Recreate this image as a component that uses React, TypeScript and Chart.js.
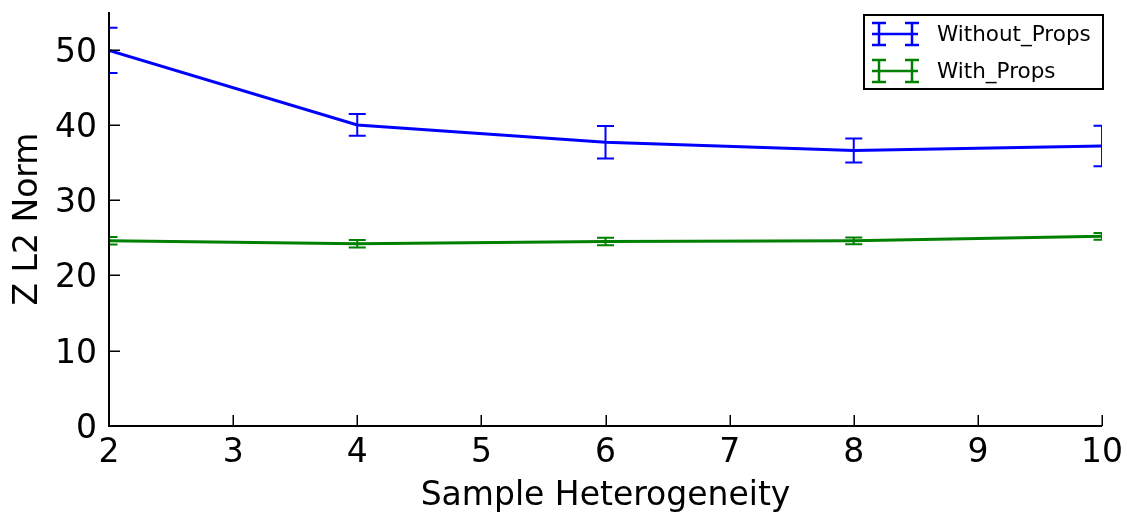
import React, { useEffect, useRef } from 'react';
import { Chart, registerables } from 'chart.js';

Chart.register(...registerables);

const xValues = [2, 4, 6, 8, 10];
const withoutProps = [49.9, 40.0, 37.7, 36.6, 37.2];
const withoutPropsErr = [3.0, 1.45, 2.15, 1.6, 2.7];
const withProps = [24.6, 24.2, 24.5, 24.6, 25.2];
const withPropsErr = [0.5, 0.5, 0.5, 0.45, 0.45];
const seriesLabels = ['Without_Props', 'With_Props'];
const seriesColors = ['#0000ff', '#008000'];
const xTickValues = [2, 3, 4, 5, 6, 7, 8, 9, 10];
const yTickValues = [0, 10, 20, 30, 40, 50];
const xTitle = 'Sample Heterogeneity';
const yTitle = 'Z L2 Norm';

const FONT = '"DejaVu Sans", sans-serif';

export default function App() {
  const ref = useRef<HTMLCanvasElement>(null);

  useEffect(() => {
    document.body.style.margin = '0';
    const canvas = ref.current!;
    const errs = [withoutPropsErr, withPropsErr];

    const decor = {
      id: 'decor',
      afterDatasetsDraw(chart: any) {
        const ctx = chart.ctx as CanvasRenderingContext2D;
        const area = chart.chartArea;
        const xs = chart.scales.x;
        const ys = chart.scales.y;
        // error bars
        ctx.save();
        ctx.beginPath();
        ctx.rect(area.left, area.top, area.right - area.left, area.bottom - area.top);
        ctx.clip();
        chart.data.datasets.forEach((ds: any, di: number) => {
          ctx.strokeStyle = seriesColors[di];
          ctx.lineWidth = 2;
          ds.data.forEach((p: any, i: number) => {
            const x = xs.getPixelForValue(p.x);
            const y1 = ys.getPixelForValue(p.y + errs[di][i]);
            const y2 = ys.getPixelForValue(p.y - errs[di][i]);
            const cap = 8.5;
            ctx.beginPath();
            ctx.moveTo(x, y1);
            ctx.lineTo(x, y2);
            ctx.moveTo(x - cap, y1);
            ctx.lineTo(x + cap, y1);
            ctx.moveTo(x - cap, y2);
            ctx.lineTo(x + cap, y2);
            ctx.stroke();
          });
        });
        ctx.restore();

        // spines and ticks
        ctx.save();
        ctx.strokeStyle = '#000';
        ctx.lineWidth = 2;
        ctx.beginPath();
        ctx.moveTo(area.left, area.top);
        ctx.lineTo(area.left, area.bottom);
        ctx.lineTo(area.right, area.bottom);
        ctx.stroke();
        ctx.lineWidth = 1.5;
        ctx.beginPath();
        xTickValues.forEach((v) => {
          const x = Math.round(xs.getPixelForValue(v)) + 0.25;
          ctx.moveTo(x, area.bottom);
          ctx.lineTo(x, area.bottom - 11);
        });
        yTickValues.forEach((v) => {
          const y = Math.round(ys.getPixelForValue(v)) + 0.25;
          ctx.moveTo(area.left, y);
          ctx.lineTo(area.left + 11, y);
        });
        ctx.stroke();

        // tick labels
        ctx.fillStyle = '#000';
        ctx.font = `33px ${FONT}`;
        ctx.textBaseline = 'alphabetic';
        ctx.textAlign = 'center';
        xTickValues.forEach((v) => {
          ctx.fillText(String(v), xs.getPixelForValue(v), area.bottom + 36);
        });
        ctx.textAlign = 'right';
        yTickValues.forEach((v) => {
          ctx.fillText(String(v), area.left - 12, ys.getPixelForValue(v) + 12);
        });
        ctx.restore();
      },
      afterDraw(chart: any) {
        const ctx = chart.ctx as CanvasRenderingContext2D;
        const area = chart.chartArea;
        ctx.save();
        ctx.fillStyle = '#000';
        ctx.font = `33px ${FONT}`;
        ctx.textAlign = 'center';
        ctx.textBaseline = 'alphabetic';
        ctx.fillText(xTitle, (area.left + area.right) / 2, 505);
        ctx.translate(37, (area.top + area.bottom) / 2);
        ctx.rotate(-Math.PI / 2);
        ctx.fillText(yTitle, 0, 0);
        ctx.restore();

        // legend
        ctx.save();
        const bx = 864, by = 15, bw = 239, bh = 74;
        ctx.fillStyle = '#fff';
        ctx.fillRect(bx, by, bw, bh);
        ctx.strokeStyle = '#000';
        ctx.lineWidth = 2;
        ctx.strokeRect(bx, by, bw, bh);
        const rows = [34, 71];
        seriesLabels.forEach((lab, i) => {
          const cy = rows[i];
          ctx.strokeStyle = seriesColors[i];
          ctx.lineWidth = 2.5;
          ctx.beginPath();
          ctx.moveTo(872, cy);
          ctx.lineTo(918, cy);
          [879, 912].forEach((ex) => {
            ctx.moveTo(ex, cy - 11);
            ctx.lineTo(ex, cy + 11);
            ctx.moveTo(ex - 7, cy - 11);
            ctx.lineTo(ex + 7, cy - 11);
            ctx.moveTo(ex - 7, cy + 11);
            ctx.lineTo(ex + 7, cy + 11);
          });
          ctx.stroke();
          ctx.fillStyle = '#000';
          ctx.font = `21.5px ${FONT}`;
          ctx.textAlign = 'left';
          ctx.textBaseline = 'alphabetic';
          ctx.fillText(lab, 937, cy + 6.5);
        });
        ctx.restore();
      },
    };

    const chart = new Chart(canvas, {
      type: 'line',
      data: {
        datasets: [
          {
            label: seriesLabels[0],
            data: xValues.map((x, i) => ({ x, y: withoutProps[i] })),
            borderColor: seriesColors[0],
            backgroundColor: seriesColors[0],
            borderWidth: 3,
            pointRadius: 0,
            tension: 0,
          },
          {
            label: seriesLabels[1],
            data: xValues.map((x, i) => ({ x, y: withProps[i] })),
            borderColor: seriesColors[1],
            backgroundColor: seriesColors[1],
            borderWidth: 3,
            pointRadius: 0,
            tension: 0,
          },
        ],
      },
      options: {
        responsive: false,
        animation: false,
        devicePixelRatio: 1,
        layout: { padding: { top: 12, right: 25, left: 0, bottom: 0 } },
        plugins: { legend: { display: false }, tooltip: { enabled: false } },
        scales: {
          x: {
            type: 'linear',
            min: 2,
            max: 10,
            grid: { display: false, drawTicks: false },
            border: { display: false },
            afterBuildTicks: (s: any) => {
              s.ticks = xTickValues.map((v) => ({ value: v }));
            },
            afterFit: (s: any) => {
              s.height = 86;
            },
            ticks: { display: false },
          },
          y: {
            type: 'linear',
            min: 0,
            max: 55,
            grid: { display: false, drawTicks: false },
            border: { display: false },
            afterBuildTicks: (s: any) => {
              s.ticks = yTickValues.map((v) => ({ value: v }));
            },
            afterFit: (s: any) => {
              s.width = 109;
            },
            ticks: { display: false },
          },
        },
      },
      plugins: [decor],
    });
    return () => chart.destroy();
  }, []);

  return <canvas ref={ref} width={1127} height={512} style={{ display: 'block' }} />;
}
